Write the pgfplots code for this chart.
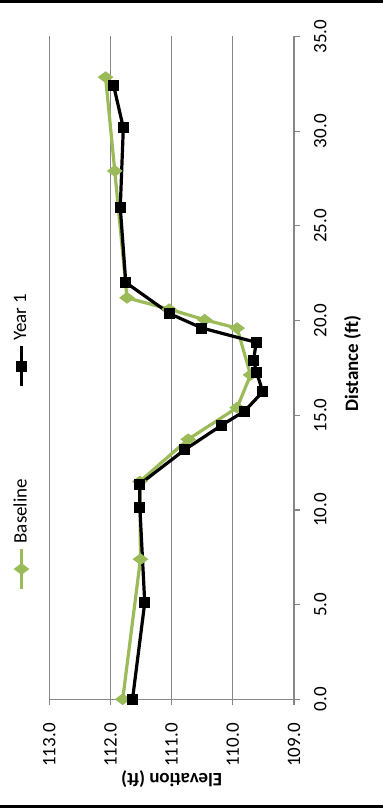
\documentclass[border=0pt]{standalone}
\usepackage{pgfplots}
\pgfplotsset{compat=1.18}
\usepackage{fontspec}
\setmainfont{Carlito}
\definecolor{bgreen}{RGB}{155,187,89}
\definecolor{axgray}{RGB}{134,134,134}
\begin{document}
\begin{tikzpicture}[rotate=90,transform shape]
\path[use as bounding box] (0,0) rectangle (404pt,191.5pt);
\draw[black,line width=1.4pt] (0.7pt,0) -- (0.7pt,191.5pt);
\draw[black,line width=1.4pt] (403.3pt,0) -- (403.3pt,191.5pt);
\begin{axis}[
  at={(54.35pt,44.5pt)}, anchor=south west,
  scale only axis, width=331.4pt, height=122.35pt,
  xmin=0, xmax=35, ymin=109, ymax=113,
  xtick={0,5,...,35}, ytick={109,110,...,113},
  axis x line*=bottom, axis y line*=left,
  axis line style={axgray, line width=0.6pt},
  tick style={axgray, line width=0.6pt},
  tick align=outside, major tick length=3pt,
  ymajorgrids, grid style={axgray, line width=0.6pt},
  clip=false,
  /pgf/number format/assume math mode=true,
  /pgf/number format/fixed, /pgf/number format/fixed zerofill, /pgf/number format/precision=1,
  ticklabel style={font=\fontsize{9.5}{11}\selectfont, black},
  xticklabel style={yshift=-3.5pt},
  yticklabel style={xshift=-5.5pt},
  xlabel={\textbf{Distance (ft)}}, ylabel={\textbf{Elevation (ft)}},
  label style={font=\fontsize{9.5}{11}\selectfont},
  xlabel style={at={(axis description cs:0.507,-0.239)}, anchor=center},
  ylabel style={at={(axis description cs:-0.121,0.5)}, anchor=center, rotate=0},
  legend columns=2,
  legend cell align=left,
  legend image code/.code={\draw[mark repeat=2,mark phase=2,#1] plot coordinates {(0pt,0pt) (10pt,0pt) (20pt,0pt)};},
  legend style={draw=none, fill=none, font=\fontsize{9.5}{11}\selectfont,
    at={(axis description cs:0.1543,1.1136)}, anchor=west,
    /tikz/every even column/.append style={column sep=43.5pt}},
]
\addplot[color=bgreen, line width=1.6pt, mark=diamond*, mark size=3.6pt, mark options={line width=0.4pt, fill=bgreen, solid}]
coordinates {
(0,111.80) (7.40,111.51) (11.50,111.52) (13.73,110.73) (15.40,109.93)
(17.13,109.71) (19.60,109.93) (20.04,110.46) (20.60,111.04) (21.20,111.73)
(27.90,111.93) (32.85,112.08)
};
\addlegendentry{Baseline}
\addplot[color=black, line width=1.6pt, mark=square*, mark size=2.5pt, mark options={line width=0.4pt, fill=black, solid}]
coordinates {
(0,111.64) (5.10,111.44) (10.14,111.52) (11.36,111.52) (13.17,110.79)
(14.48,110.18) (15.21,109.81) (16.24,109.51) (17.25,109.61) (17.87,109.66)
(18.85,109.62) (19.61,110.51) (20.36,111.03) (22.01,111.75) (25.97,111.84)
(30.18,111.79) (32.43,111.95)
};
\addlegendentry{Year 1}
\end{axis}
\end{tikzpicture}
\end{document}
